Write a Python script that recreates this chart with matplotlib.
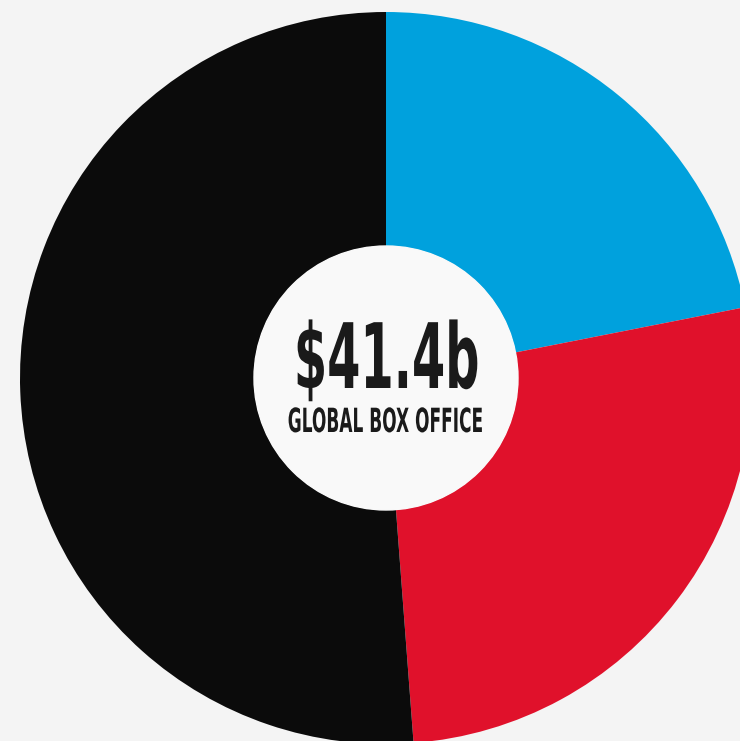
import matplotlib.pyplot as plt
from matplotlib.patheffects import AbstractPathEffect
from matplotlib.transforms import Affine2D

# share of global box office (percent)
segments = ['Blue', 'Red', 'Black']
shares = [21.9, 26.9, 51.2]
colors = ['#00a1dd', '#e0112b', '#0b0b0b']

total_label = '$41.4b'
sub_label = 'GLOBAL BOX OFFICE'


class Squeeze(AbstractPathEffect):
    """Narrow the glyphs horizontally around the text centre (condensed look)."""

    def __init__(self, sx):
        super().__init__()
        self.sx = sx

    def draw_path(self, renderer, gc, tpath, affine, rgbFace=None):
        ext = tpath.get_extents()
        mid = (ext.x0 + ext.x1) / 2
        pre = Affine2D().translate(-mid, 0).scale(self.sx, 1).translate(mid, 0)
        renderer.draw_path(gc, tpath, pre + affine, rgbFace)


fig = plt.figure(figsize=(7.4, 7.41), dpi=100)
fig.patch.set_facecolor('#f4f4f4')
ax = fig.add_axes([0, 0, 1, 1])
ax.set_facecolor('#f4f4f4')

outer = 366
inner = 132
ax.pie(shares, colors=colors, radius=outer, startangle=90, counterclock=False,
       wedgeprops=dict(width=outer - inner, linewidth=0))
hole = plt.Circle((0, 0), inner, color='#f9f9f9', zorder=3)
ax.add_patch(hole)

# ring is cut off at right and bottom edges, like the source
ax.set_xlim(-386, 740 - 386)
ax.set_ylim(-(741 - 378), 378)
ax.set_aspect('equal')
ax.axis('off')

ax.text(0, -10, total_label, ha='center', va='baseline', fontsize=65,
        family='DejaVu Sans', weight='bold', color='#1a1a1a', zorder=4,
        path_effects=[Squeeze(0.53)])
ax.text(0, -54, sub_label, ha='center', va='baseline', fontsize=24,
        family='DejaVu Sans', weight='bold', color='#1a1a1a', zorder=4,
        path_effects=[Squeeze(0.51)])

fig.savefig('out.png', dpi=100, facecolor=fig.get_facecolor())
